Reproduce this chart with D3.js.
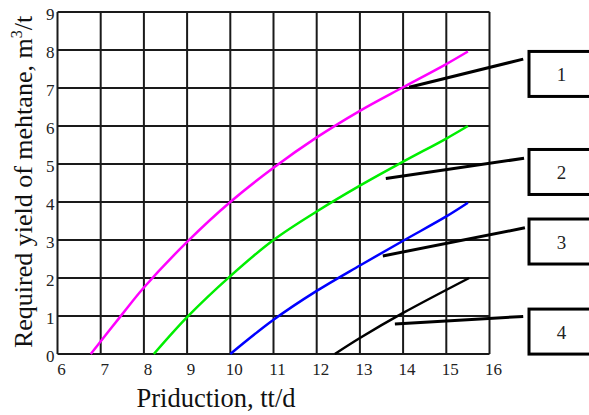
<!DOCTYPE html>
<html>
<head>
<meta charset="utf-8">
<script src="https://cdn.jsdelivr.net/npm/d3@7"></script>
<style>
    body { margin: 0; background: #fff; }
    text { font-family: "Liberation Serif", "Times New Roman", serif; }
</style>
</head>
<body>
<div id="chart"></div>
<script>
// Tick values
var xTicks = [6, 7, 8, 9, 10, 11, 12, 13, 14, 15, 16];
var yTicks = [0, 1, 2, 3, 4, 5, 6, 7, 8, 9];

// Curves (production, yield)
var magentaX = [6.77, 7.5, 8, 9, 10, 11, 12, 13, 14, 15, 15.5];
var magentaY = [0, 1.05, 1.75, 2.95, 4.0, 4.9, 5.7, 6.4, 7.02, 7.63, 7.96];
var greenX = [8.23, 9, 10, 11, 12, 13, 14, 15, 15.5];
var greenY = [0, 0.97, 2.05, 3.0, 3.75, 4.43, 5.06, 5.67, 6.0];
var blueX = [10, 11, 12, 13, 14, 15, 15.5];
var blueY = [0, 0.9, 1.66, 2.33, 2.98, 3.62, 3.98];
var blackX = [12.42, 13, 14, 15.53];
var blackY = [0, 0.42, 1.08, 2.0];

// Callout labels: line from curve point to box (data units)
var calloutNames = ["1", "2", "3", "4"];
var calloutFromX = [14.14, 13.60, 13.53, 13.81];
var calloutFromY = [7.02, 4.62, 2.58, 0.79];
var calloutToX = [16.78, 16.80, 16.82, 16.78];
var calloutToY = [7.76, 5.15, 3.32, 0.99];
var boxCenterY = [7.37, 4.79, 2.96, 0.59];

var svgWidth = 589, svgHeight = 415;
var margins = { top: 12, bottom: 61, left: 57.5, right: 99.5 };
var width = svgWidth - margins.left - margins.right;
var height = svgHeight - margins.top - margins.bottom;

var svg = d3.select("#chart")
    .append("svg")
    .attr("width", svgWidth)
    .attr("height", svgHeight)
    .append("g")
    .attr("transform", "translate(" + margins.left + "," + margins.top + ")");

var xScale = d3.scaleLinear().domain([6, 16]).range([0, width]);
var yScale = d3.scaleLinear().domain([0, 9]).range([height, 0]);

// Grid
svg.selectAll(".vgrid").data(xTicks).enter().append("line")
    .attr("x1", d => xScale(d)).attr("x2", d => xScale(d))
    .attr("y1", 0).attr("y2", height)
    .attr("stroke", "#1a1a1a").attr("stroke-width", 2);
svg.selectAll(".hgrid").data(yTicks).enter().append("line")
    .attr("y1", d => yScale(d)).attr("y2", d => yScale(d))
    .attr("x1", 0).attr("x2", width)
    .attr("stroke", "#1a1a1a").attr("stroke-width", 2);

// Tick labels
svg.selectAll(".xlab").data(xTicks).enter().append("text")
    .attr("x", d => xScale(d) + 4)
    .attr("y", height + 21)
    .attr("text-anchor", "middle")
    .attr("font-size", 17)
    .attr("fill", "#222")
    .text(d => d);
svg.selectAll(".ylab").data(yTicks).enter().append("text")
    .attr("x", -3)
    .attr("y", d => yScale(d) + 8)
    .attr("text-anchor", "end")
    .attr("font-size", 17)
    .attr("fill", "#222")
    .text(d => d);

// Axis titles
svg.append("text")
    .attr("x", 216 - margins.left)
    .attr("y", height + 53)
    .attr("text-anchor", "middle")
    .attr("font-size", 26.5)
    .attr("fill", "#111")
    .text("Priduction, tt/d");

var yTitle = svg.append("text")
    .attr("transform", "rotate(-90)")
    .attr("x", -height / 2 + 1)
    .attr("y", -margins.left + 32)
    .attr("text-anchor", "middle")
    .attr("font-size", 26)
    .attr("fill", "#111");
yTitle.append("tspan").text("Required yield of mehtane, m");
yTitle.append("tspan").attr("font-size", 16).attr("dy", -10).text("3");
yTitle.append("tspan").attr("dy", 10).text("/t");

// Curves
var line = d3.line()
    .x(d => xScale(d[0]))
    .y(d => yScale(d[1]))
    .curve(d3.curveCatmullRom.alpha(0.5));

var curves = [
    { xs: magentaX, ys: magentaY, color: "#ff00ff" },
    { xs: greenX, ys: greenY, color: "#00ee00" },
    { xs: blueX, ys: blueY, color: "#0000ff" },
    { xs: blackX, ys: blackY, color: "#000" }
];
curves.forEach(function (c) {
    svg.append("path")
        .attr("d", line(d3.zip(c.xs, c.ys)))
        .attr("fill", "none")
        .attr("stroke", c.color)
        .attr("stroke-width", 2.5);
});

// Callouts
calloutNames.forEach(function (name, i) {
    svg.append("line")
        .attr("x1", xScale(calloutFromX[i])).attr("y1", yScale(calloutFromY[i]))
        .attr("x2", xScale(calloutToX[i])).attr("y2", yScale(calloutToY[i]))
        .attr("stroke", "#000").attr("stroke-width", 3);
    var cy = yScale(boxCenterY[i]);
    svg.append("rect")
        .attr("x", xScale(16) + 39.5)
        .attr("y", cy - 22.5)
        .attr("width", 80)
        .attr("height", 45)
        .attr("fill", "#fff")
        .attr("stroke", "#000")
        .attr("stroke-width", 3);
    svg.append("text")
        .attr("x", xScale(16) + 72)
        .attr("y", cy + 7)
        .attr("text-anchor", "middle")
        .attr("font-size", 19)
        .attr("fill", "#222")
        .text(name);
});
</script>
</body>
</html>
